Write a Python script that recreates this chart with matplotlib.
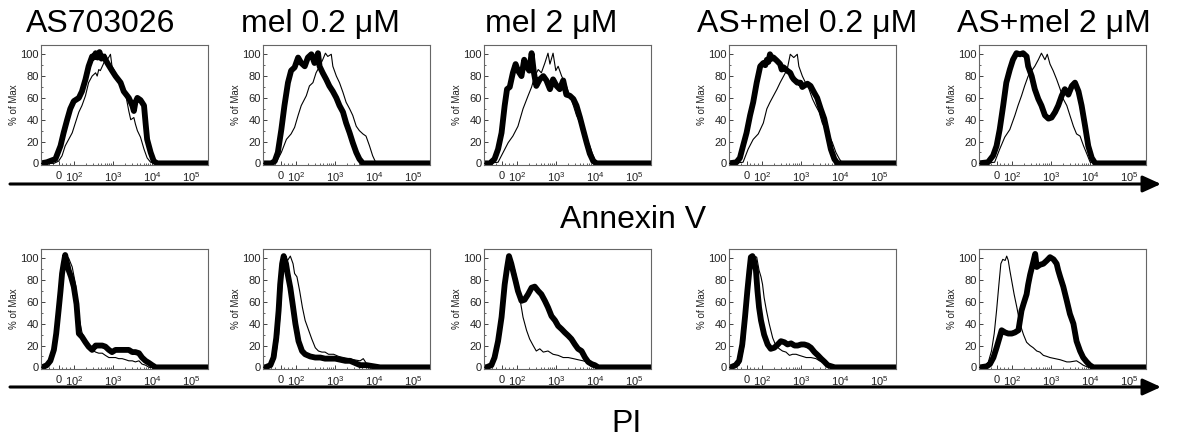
import matplotlib
matplotlib.use('Agg')
import matplotlib.pyplot as plt
import numpy as np
from matplotlib.patches import FancyArrowPatch

plt.rcParams['font.family'] = ['Liberation Sans', 'DejaVu Sans']
plt.rcParams['mathtext.fontset'] = 'custom'
plt.rcParams['mathtext.rm'] = 'Liberation Sans'
plt.rcParams['mathtext.it'] = 'Liberation Sans:italic'

# ---------------- data ----------------
titles = ['AS703026', 'mel 0.2 \u03bcM', 'mel 2 \u03bcM', 'AS+mel 0.2 \u03bcM', 'AS+mel 2 \u03bcM']
row_labels = ['Annexin V', 'PI']
x_tick_pos = [1.6, 2, 3, 4, 5]            # logicle display position (decades)
x_tick_labels = ['0', r'$\mathregular{10^2}$', r'$\mathregular{10^3}$',
                 r'$\mathregular{10^4}$', r'$\mathregular{10^5}$']
y_ticks = [0, 20, 40, 60, 80, 100]

# (display position in decades, % of Max)
annexin_ctrl_AS = [(1.48,0),(1.60,2),(1.69,7),(1.77,16),(1.86,22),(1.95,28),(2.03,37),(2.12,47),(2.20,53),
                   (2.29,62),(2.37,74),(2.46,80),(2.55,83),(2.59,80),(2.63,86),(2.67,85),(2.76,92),(2.80,100),
                   (2.85,95),(2.93,100),(2.97,89),(3.06,83),(3.14,77),(3.23,71),(3.32,63),(3.40,48),(3.45,40),
                   (3.53,42),(3.57,36),(3.62,30),(3.66,27),(3.70,24),(3.79,13),(3.87,5),(3.96,1)]
annexin_trt_AS = [(1.30,1),(1.52,4),(1.65,16),(1.73,28),(1.82,40),(1.90,50),(1.99,57),(2.12,60),(2.20,66),
                  (2.29,77),(2.37,89),(2.46,98),(2.50,97),(2.55,101),(2.60,97),(2.65,102),(2.70,96),(2.76,98),
                  (2.85,92),(2.97,85),(3.06,80),(3.19,74),(3.27,66),(3.40,60),(3.49,53),(3.53,48),(3.57,56),
                  (3.62,60),(3.70,58),(3.79,53),(3.83,37),(3.87,22),(3.96,10),(4.04,2),(4.13,0)]
annexin_ctrl_mel02 = [(1.49,1),(1.62,10),(1.75,22),(1.87,27),(1.96,33),(2.05,44),(2.13,53),(2.26,62),(2.34,71),
                      (2.43,74),(2.51,83),(2.60,89),(2.68,95),(2.75,101),(2.81,98),(2.90,100),(2.94,89),(3.03,80),
                      (3.11,74),(3.20,65),(3.28,56),(3.37,50),(3.45,44),(3.54,34),(3.62,30),(3.71,27),(3.79,25),
                      (3.88,16),(3.96,7),(4.05,0)]
annexin_trt_mel02 = [(1.36,0),(1.45,2),(1.53,10),(1.62,31),(1.70,53),(1.79,74),(1.87,85),(1.96,88),(2.05,97),
                     (2.13,92),(2.22,89),(2.30,97),(2.39,100),(2.47,92),(2.56,101),(2.60,89),(2.68,83),(2.77,77),
                     (2.85,71),(2.94,66),(3.03,60),(3.11,53),(3.20,47),(3.28,37),(3.37,28),(3.45,19),(3.54,10),
                     (3.62,4),(3.71,0)]
annexin_ctrl_mel2 = [(1.51,1),(1.64,10),(1.77,19),(1.89,25),(2.02,34),(2.15,50),(2.28,62),(2.37,70),(2.45,80),
                     (2.54,86),(2.62,83),(2.71,92),(2.79,101),(2.84,91),(2.92,101),(2.99,85),(3.05,89),(3.14,80),
                     (3.26,71),(3.35,62),(3.44,53),(3.52,44),(3.61,37),(3.69,30),(3.78,22),(3.86,16),(3.95,7),(4.04,0)]
annexin_trt_mel2 = [(1.30,0),(1.42,4),(1.51,13),(1.60,28),(1.68,53),(1.74,68),(1.81,70),(1.89,83),(1.96,91),
                    (2.02,85),(2.11,80),(2.18,95),(2.24,89),(2.31,85),(2.37,101),(2.43,83),(2.49,71),(2.58,77),
                    (2.67,80),(2.75,76),(2.84,68),(2.92,77),(3.01,71),(3.09,68),(3.18,76),(3.26,63),(3.35,62),
                    (3.44,59),(3.52,53),(3.61,42),(3.69,31),(3.78,19),(3.86,9),(3.95,2),(4.04,0)]
annexin_ctrl_ASmel02 = [(1.51,1),(1.64,13),(1.77,22),(1.90,27),(2.03,37),(2.12,50),(2.20,56),(2.29,62),(2.38,68),
                        (2.46,74),(2.55,80),(2.64,86),(2.72,100),(2.81,97),(2.90,100),(2.94,89),(3.03,80),(3.11,74),
                        (3.20,68),(3.29,59),(3.37,53),(3.46,47),(3.54,37),(3.63,31),(3.72,25),(3.80,19),(3.89,10),
                        (3.98,4),(4.06,0)]
annexin_trt_ASmel02 = [(1.34,1),(1.43,5),(1.51,16),(1.60,28),(1.69,44),(1.77,56),(1.86,74),(1.95,89),(2.03,92),
                       (2.08,90),(2.12,95),(2.16,93),(2.20,100),(2.25,96),(2.29,97),(2.38,94),(2.46,91),(2.50,86),
                       (2.55,88),(2.64,85),(2.72,83),(2.77,79),(2.81,77),(2.90,74),(2.98,74),(3.03,70),(3.07,71),
                       (3.16,73),(3.24,71),(3.33,65),(3.41,60),(3.50,50),(3.59,41),
                       (3.67,28),(3.76,13),(3.85,4),(3.93,0)]
annexin_ctrl_ASmel2 = [(1.55,1),(1.68,13),(1.81,24),(1.94,31),(2.07,44),(2.15,53),(2.24,62),(2.32,71),(2.41,80),
                       (2.50,85),(2.58,89),(2.67,95),(2.75,101),(2.84,95),(2.90,100),(2.97,91),(3.05,85),(3.14,77),
                       (3.23,68),(3.31,59),(3.40,53),(3.48,44),(3.57,34),(3.65,27),(3.74,25),(3.83,16),(3.91,9),(4.00,1)]
annexin_trt_ASmel2 = [(1.38,1),(1.51,7),(1.60,16),(1.68,31),(1.77,53),(1.85,74),(1.94,86),(2.02,95),(2.11,101),
                      (2.20,100),(2.28,101),(2.37,98),(2.41,89),(2.50,80),(2.58,68),(2.67,59),(2.75,53),(2.84,44),
                      (2.93,41),(3.01,42),(3.10,47),(3.18,53),(3.27,62),(3.35,68),(3.44,63),(3.53,71),(3.61,74),
                      (3.70,66),(3.78,53),(3.87,34),(3.95,16),(4.04,5),(4.13,0)]

pi_ctrl_AS = [(1.30,2),(1.39,6),(1.48,16),(1.54,30),(1.65,61),(1.71,83),(1.77,98),(1.80,102),(1.86,100),
              (1.95,92),(2.03,77),(2.12,46),(2.20,32),(2.29,25),(2.37,20),(2.46,16),(2.55,14),(2.63,13),(2.72,13),
              (2.80,11),(2.89,9),(2.97,9),(3.06,9),(3.14,8),(3.23,8),(3.32,7),(3.40,6),(3.49,6),(3.57,5),(3.66,6),
              (3.74,3),(3.83,2),(3.92,0)]
pi_trt_AS = [(1.18,0),(1.30,2),(1.39,6),(1.48,16),(1.54,31),(1.60,52),(1.65,70),(1.69,86),(1.73,95),(1.77,103),
             (1.82,95),(1.86,89),(1.92,83),(1.99,74),(2.06,58),(2.12,31),(2.20,28),(2.29,23),(2.37,19),(2.46,16),
             (2.55,20),(2.63,20),(2.72,20),(2.80,19),(2.89,16),(2.97,14),(3.06,16),(3.14,16),(3.23,16),(3.32,16),
             (3.40,16),(3.49,14),(3.57,14),(3.66,13),(3.74,9),(3.83,6),(3.92,4),(4.00,2),(4.09,0)]
pi_ctrl_mel02 = [(1.38,2),(1.47,9),(1.55,30),(1.61,61),(1.66,88),(1.72,101),(1.78,98),(1.85,102),(1.92,95),
                 (1.96,86),(2.02,83),(2.09,70),(2.16,55),(2.23,43),(2.32,34),(2.40,26),(2.49,18),(2.57,15),(2.66,14),
                 (2.74,14),(2.83,12),(2.96,12),(3.09,10),(3.21,9),(3.34,8),(3.47,7),(3.64,6),(3.72,8),(3.81,3),
                 (3.94,2),(4.07,0)]
pi_trt_mel02 = [(1.21,0),(1.34,2),(1.42,9),(1.49,27),(1.55,52),(1.59,76),(1.64,95),(1.68,102),(1.74,95),(1.78,86),
                (1.85,73),(1.91,58),(1.98,40),(2.06,24),(2.15,15),(2.23,12),(2.36,10),(2.49,9),(2.62,9),(2.74,8),
                (2.87,8),(3.00,8),(3.13,7),(3.26,6),(3.38,6),(3.51,4),(3.64,2),(3.81,2),(3.98,1),(4.15,0)]
pi_ctrl_mel2 = [(1.34,2),(1.47,12),(1.55,30),(1.64,61),(1.71,85),(1.77,101),(1.79,102),(1.85,98),(1.94,89),
                (2.02,76),(2.08,61),(2.15,46),(2.24,34),(2.32,26),(2.41,20),(2.49,15),(2.58,17),(2.67,14),(2.79,15),
                (2.92,12),(3.05,11),(3.18,9),(3.31,9),(3.44,8),(3.56,7),(3.69,6),(3.78,5),(3.86,2),(3.95,0)]
pi_trt_mel2 = [(1.21,0),(1.34,2),(1.42,9),(1.51,24),(1.60,46),(1.68,76),(1.74,91),(1.79,102),(1.85,95),(1.89,89),
               (1.96,79),(2.02,70),(2.11,61),(2.19,62),(2.28,67),(2.37,73),(2.45,74),(2.54,70),(2.62,67),(2.71,61),
               (2.79,55),(2.88,47),(2.97,43),(3.05,38),(3.14,35),(3.22,32),(3.31,29),(3.39,26),(3.48,21),(3.56,17),
               (3.65,15),(3.74,9),(3.82,5),(3.91,3),(3.99,2),(4.08,0)]
pi_ctrl_ASmel02 = [(1.41,2),(1.45,6),(1.54,21),(1.61,52),(1.67,82),(1.73,98),(1.79,102),(1.86,101),(1.92,89),
                   (1.97,83),(2.01,76),(2.05,64),(2.11,52),(2.18,40),(2.27,27),(2.35,20),(2.44,17),(2.52,15),
                   (2.61,14),(2.70,11),(2.78,12),(2.87,12),(2.95,11),(3.04,10),(3.13,9),(3.25,9),(3.38,8),(3.47,6),
                   (3.56,5),(3.68,3),(3.81,2),(3.94,0)]
pi_trt_ASmel02 = [(1.19,0),(1.32,2),(1.41,6),(1.49,21),(1.56,46),(1.62,70),(1.67,88),(1.71,101),(1.75,102),
                  (1.79,98),(1.84,89),(1.88,70),(1.92,55),(1.97,43),(2.05,30),(2.14,21),(2.22,17),(2.31,18),
                  (2.40,21),(2.48,24),(2.57,23),(2.65,21),(2.74,22),(2.83,20),(2.91,20),(3.00,21),(3.08,21),
                  (3.17,20),(3.25,18),(3.34,14),(3.43,11),(3.51,8),(3.60,5),(3.68,2),(3.77,1),(3.86,0)]
pi_ctrl_ASmel2 = [(1.30,1),(1.39,5),(1.47,15),(1.54,31),(1.60,52),(1.66,76),(1.71,95),(1.76,99),(1.82,98),
                  (1.86,102),(1.90,98),(1.94,89),(1.99,79),(2.05,67),(2.12,55),(2.20,40),(2.29,30),(2.37,23),
                  (2.46,20),(2.54,18),(2.63,15),(2.71,14),(2.80,11),(2.89,10),(2.97,9),(3.10,8),(3.23,7),(3.40,5),
                  (3.48,5),(3.65,6),(3.74,4),(3.82,2),(3.95,0)]
pi_trt_ASmel2 = [(1.18,0),(1.35,1),(1.43,3),(1.52,9),(1.60,18),(1.69,29),(1.73,34),(1.82,32),(1.90,31),(1.99,31),
                 (2.07,32),(2.16,34),(2.20,43),(2.24,52),(2.29,58),(2.37,67),(2.41,76),(2.46,85),(2.53,95),(2.59,104),
                 (2.63,92),(2.71,94),(2.80,95),(2.89,98),(2.97,101),(3.06,99),(3.14,95),(3.18,89),(3.23,83),(3.31,74),
                 (3.40,61),(3.48,49),(3.57,40),(3.65,24),(3.74,15),(3.82,9),(3.91,5),(3.99,2),(4.08,0)]

annexin_ctrl = [annexin_ctrl_AS, annexin_ctrl_mel02, annexin_ctrl_mel2, annexin_ctrl_ASmel02, annexin_ctrl_ASmel2]
annexin_trt = [annexin_trt_AS, annexin_trt_mel02, annexin_trt_mel2, annexin_trt_ASmel02, annexin_trt_ASmel2]
pi_ctrl = [pi_ctrl_AS, pi_ctrl_mel02, pi_ctrl_mel2, pi_ctrl_ASmel02, pi_ctrl_ASmel2]
pi_trt = [pi_trt_AS, pi_trt_mel02, pi_trt_mel2, pi_trt_ASmel02, pi_trt_ASmel2]

# ---------------- layout ----------------
W, H = 1183, 440
fig = plt.figure(figsize=(W / 100, H / 100), dpi=100)
XMIN, XMAX = 1.15, 5.43
panel_left_px = [41, 263, 484, 729, 979]
panel_w_px = 167
row_top_px = [45, 249]
panel_h_px = 120
title_center_px = [101, 320, 551, 807, 1054]

minor_x = []
for d in (2, 3, 4, 5):
    for k in range(2, 10):
        v = d + np.log10(k)
        if v < XMAX:
            minor_x.append(v)
minor_x += [1.25, 1.35, 1.45, 1.7, 1.8, 1.9]


def curve(points):
    xs = [XMIN] + [p[0] for p in points] + [XMAX]
    ys = [0] + [p[1] for p in points] + [0]
    return xs, ys


for r, (ctrls, trts) in enumerate([(annexin_ctrl, annexin_trt), (pi_ctrl, pi_trt)]):
    for c in range(5):
        left = panel_left_px[c] / W
        bottom = 1 - (row_top_px[r] + panel_h_px) / H
        ax = fig.add_axes([left, bottom, panel_w_px / W, panel_h_px / H])
        xs, ys = curve(trts[c])
        ax.plot(xs, ys, color='black', lw=4.2, solid_joinstyle='round', solid_capstyle='round', zorder=2)
        xs, ys = curve(ctrls[c])
        ax.plot(xs, ys, color='black', lw=0.8, zorder=3)
        ax.set_xlim(XMIN, XMAX)
        ax.set_ylim(-1.5, 108.5)
        ax.set_xticks(x_tick_pos)
        ax.set_xticklabels(x_tick_labels)
        ax.set_xticks(minor_x, minor=True)
        ax.set_yticks(y_ticks)
        ax.set_yticklabels([str(v) for v in y_ticks])
        ax.set_yticks([10, 30, 50, 70, 90], minor=True)
        ax.tick_params(axis='both', which='major', direction='in', length=3, width=0.6,
                       labelsize=8, pad=1.5, colors='#222222')
        ax.tick_params(axis='x', which='major', pad=4)
        ax.tick_params(axis='both', which='minor', direction='in', length=1.5, width=0.5, color='#222222')
        for s in ax.spines.values():
            s.set_color('#666666')
            s.set_linewidth(0.8)
        ax.set_ylabel('% of Max', fontsize=7, labelpad=1, color='#222222')

# titles
for c in range(5):
    fig.text(title_center_px[c] / W, 1 - 32 / H, titles[c], ha='center', va='baseline', fontsize=23)

# arrows and axis names
for y_px, label, lx, ly in [(184, row_labels[0], 633, 228), (387, row_labels[1], 626, 432)]:
    arr = FancyArrowPatch((10 / W, 1 - y_px / H), (1161 / W, 1 - y_px / H), transform=fig.transFigure,
                          arrowstyle='-|>,head_length=1.1,head_width=0.5', mutation_scale=10,
                          lw=2.2, color='black', shrinkA=0, shrinkB=0)
    fig.add_artist(arr)
    fig.text(lx / W, 1 - ly / H, label, ha='center', va='baseline', fontsize=23)

fig.savefig('out.png', dpi=100)
